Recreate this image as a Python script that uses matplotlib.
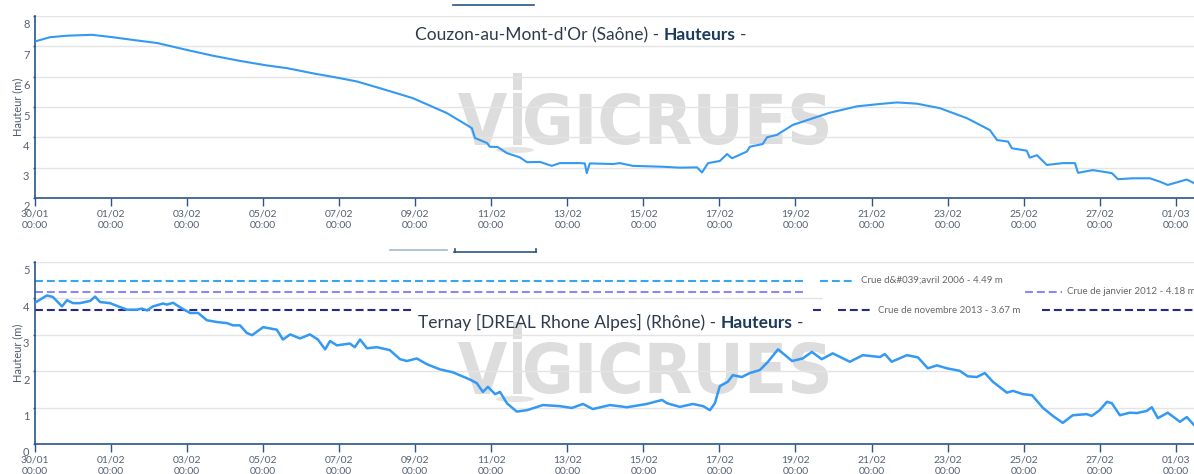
import numpy as np
import pandas as pd
import matplotlib
matplotlib.use('Agg')
import matplotlib.pyplot as plt
import matplotlib.dates as mdates
from matplotlib.patches import PathPatch, Rectangle, Ellipse
from matplotlib.textpath import TextPath
from matplotlib.font_manager import FontProperties
from matplotlib.transforms import Affine2D, IdentityTransform, ScaledTranslation
from matplotlib.lines import Line2D

plt.rcParams['font.family'] = ['Lato', 'DejaVu Sans']

debut = pd.Timestamp('2018-01-30 00:00')
ticks_dates = pd.date_range('2018-01-30', '2018-03-01', freq='2D')

# Couzon-au-Mont-d'Or (Saône): jours depuis le 30/01 00:00, hauteur en m
couzon_jours = [0.00, 0.39, 0.84, 1.50, 2.05, 2.58, 3.21, 4.00, 4.68, 5.39, 6.10, 6.63,
                7.31, 8.02, 8.47, 9.07, 9.60, 9.94, 10.83, 11.39, 11.49, 11.57, 11.89,
                11.96, 12.17, 12.41, 12.75, 12.94, 13.28, 13.59, 13.80, 14.33, 14.46,
                14.51, 14.59, 15.20, 15.38, 15.72, 16.51, 16.96, 17.41, 17.54, 17.70,
                18.01, 18.20, 18.33, 18.72, 18.80, 19.14, 19.25, 19.51, 19.93, 20.46,
                20.90, 21.61, 22.22, 22.67, 23.19, 23.80, 24.51, 25.11, 25.30, 25.59,
                25.69, 26.08, 26.16, 26.35, 26.61, 27.03, 27.35, 27.43, 27.82, 28.32,
                28.48, 28.87, 29.32, 29.58, 29.79, 30.29, 30.48]
couzon_h = [7.16, 7.30, 7.35, 7.38, 7.30, 7.21, 7.11, 6.88, 6.69, 6.52, 6.37, 6.28,
            6.11, 5.95, 5.84, 5.62, 5.42, 5.29, 4.80, 4.38, 4.30, 3.98, 3.81,
            3.69, 3.68, 3.48, 3.34, 3.18, 3.19, 3.06, 3.15, 3.15, 3.14,
            2.82, 3.14, 3.12, 3.15, 3.06, 3.03, 3.00, 3.01, 2.84, 3.15,
            3.22, 3.45, 3.31, 3.53, 3.69, 3.78, 4.00, 4.08, 4.41, 4.63,
            4.81, 5.02, 5.10, 5.15, 5.11, 4.96, 4.63, 4.24, 3.91, 3.86,
            3.64, 3.56, 3.33, 3.41, 3.09, 3.15, 3.15, 2.83, 2.92, 2.82,
            2.62, 2.65, 2.65, 2.54, 2.43, 2.61, 2.49]

# Ternay (Rhône)
ternay_jours = [0.00, 0.31, 0.47, 0.71, 0.84, 1.00, 1.18, 1.45, 1.58, 1.71, 1.97, 2.24,
                2.42, 2.68, 2.81, 2.95, 3.10, 3.37, 3.47, 3.63, 3.87, 4.08, 4.29, 4.52,
                4.79, 5.05, 5.21, 5.39, 5.57, 5.71, 6.00, 6.36, 6.52, 6.71, 6.97, 7.23,
                7.44, 7.63, 7.76, 7.94, 8.28, 8.41, 8.55, 8.73, 8.99, 9.33, 9.60, 9.78,
                10.04, 10.31, 10.65, 10.99, 11.44, 11.62, 11.78, 11.91, 12.10, 12.23,
                12.41, 12.67, 12.94, 13.36, 13.80, 14.12, 14.41, 14.67, 15.12, 15.57,
                16.09, 16.49, 16.62, 16.96, 17.30, 17.57, 17.75, 17.88, 18.01, 18.22,
                18.35, 18.59, 18.80, 19.06, 19.27, 19.54, 19.67, 19.91, 20.19, 20.43,
                20.69, 20.98, 21.43, 21.77, 22.22, 22.35, 22.53, 22.93, 23.22, 23.48,
                23.72, 23.98, 24.32, 24.53, 24.77, 24.98, 25.19, 25.56, 25.72, 25.98,
                26.22, 26.51, 26.77, 27.03, 27.29, 27.66, 27.79, 28.00, 28.19, 28.32,
                28.53, 28.79, 28.98, 29.24, 29.37, 29.53, 29.79, 30.11, 30.29, 30.48]
ternay_h = [3.88, 4.08, 4.04, 3.78, 3.95, 3.87, 3.87, 3.93, 4.05, 3.90, 3.87, 3.76,
            3.69, 3.69, 3.72, 3.67, 3.78, 3.86, 3.83, 3.88, 3.72, 3.60, 3.60, 3.40,
            3.35, 3.32, 3.26, 3.26, 3.05, 2.99, 3.21, 3.14, 2.87, 3.01, 2.90, 3.01,
            2.87, 2.60, 2.83, 2.71, 2.76, 2.66, 2.87, 2.63, 2.66, 2.58, 2.33, 2.28,
            2.35, 2.19, 2.05, 1.97, 1.77, 1.67, 1.43, 1.57, 1.37, 1.43,
            1.12, 0.89, 0.93, 1.07, 1.04, 0.99, 1.10, 0.96, 1.07, 1.01,
            1.10, 1.21, 1.12, 1.02, 1.10, 1.04, 0.93, 1.12, 1.59, 1.71,
            1.89, 1.84, 1.95, 2.03, 2.25, 2.60, 2.49, 2.28, 2.35, 2.53,
            2.33, 2.49, 2.26, 2.44, 2.39, 2.47, 2.26, 2.44, 2.38, 2.08,
            2.16, 2.08, 2.01, 1.86, 1.84, 1.95, 1.71, 1.41, 1.46, 1.37,
            1.34, 0.99, 0.77, 0.58, 0.79, 0.82, 0.77, 0.93, 1.16, 1.12,
            0.79, 0.86, 0.85, 0.91, 1.01, 0.71, 0.86, 0.61, 0.74, 0.52]

# crues historiques de Ternay
crues_noms = ["Crue d&#039;avril 2006", "Crue de janvier 2012", "Crue de novembre 2013"]
crues_h = [4.49, 4.18, 3.67]
crues_couleurs = ['#36a6f4', '#8c86f6', '#25298a']

NAVY = '#2a5586'
GRIS = '#566173'
BLEU = '#3399f3'
W, H = 1194, 474

fig = plt.figure(figsize=(W / 100, H / 100), dpi=100)


def axes_px(left, top, right, bottom):
    return fig.add_axes([left / W, 1 - bottom / H, (right - left) / W, (bottom - top) / H])


def en_dates(jours):
    return (debut + pd.to_timedelta(jours, unit='D')).to_numpy()


t0 = mdates.date2num(debut.to_pydatetime())


def filigrane(ax, top):
    # logo VIGICRUES gris clair derrière la courbe (coordonnées en pixels)
    fp = FontProperties(family='DejaVu Sans', weight='bold')
    couleur = '#dddddd'
    for txt, x0, x1 in [('V', 458, 507), ('GICRUES', 525, 828)]:
        p = TextPath((0, 0), txt, size=100, prop=fp)
        ext = p.get_extents()
        tr = (Affine2D().translate(-ext.x0, -ext.y0)
              .scale((x1 - x0) / ext.width, 52 / ext.height)
              .translate(x0, H - top - 52))
        ax.add_artist(PathPatch(tr.transform_path(p), facecolor=couleur, lw=0,
                                transform=IdentityTransform(), zorder=0.3, clip_on=False))
    ax.add_artist(Rectangle((513, H - top - 52), 9, 52, facecolor=couleur, lw=0,
                            transform=IdentityTransform(), zorder=0.3, clip_on=False))
    ax.add_artist(Rectangle((513, H - top + 3), 9, 17, facecolor=couleur, lw=0,
                            transform=IdentityTransform(), zorder=0.3, clip_on=False))
    ax.add_artist(Ellipse((515, H - top - 57), 38, 6, facecolor='#e4e4e4', lw=0,
                          transform=IdentityTransform(), zorder=0.3, clip_on=False))


def titre(ax, x, base, lieu):
    t1 = fig.text(x / W, 1 - base / H, lieu + ' -', fontsize=12.5, color='#2f3b4d',
                  ha='left', va='baseline')
    t2 = ax.annotate('Hauteurs', xy=(1, 0), xycoords=t1, xytext=(3.3, 0),
                     textcoords='offset points', fontsize=12.5, fontweight='bold',
                     color='#1b3a5c', ha='left', va='bottom')
    ax.annotate('-', xy=(1, 0), xycoords=t2, xytext=(3.3, 0), textcoords='offset points',
                fontsize=12.5, color='#2f3b4d', ha='left', va='bottom')


def habiller(ax, ymin, ymax, centre):
    ax.set_xlim(t0, t0 + 30.48)
    ax.set_ylim(ymin, ymax)
    ax.set_yticks(range(ymin, ymax + 1))
    ax.set_xticks(mdates.date2num(ticks_dates.to_pydatetime()))
    ax.xaxis.set_major_formatter(mdates.DateFormatter('%d/%m\n%H:%M'))
    for s in ['top', 'right']:
        ax.spines[s].set_visible(False)
    for s in ['left', 'bottom']:
        ax.spines[s].set_color(NAVY)
        ax.spines[s].set_linewidth(1.2)
    ax.set_axisbelow(True)
    ax.grid(axis='y', color='#e4e4e4', lw=1)
    ax.tick_params(axis='x', length=5.5, width=1, color=NAVY, pad=2.5,
                   labelsize=7.5, labelcolor=GRIS)
    ax.tick_params(axis='y', length=1.6, width=1, color=NAVY, pad=2.4,
                   labelsize=8, labelcolor=GRIS)
    plt.setp(ax.get_xticklabels(), linespacing=1.45)
    decal = ScaledTranslation(0, -8 / 100, fig.dpi_scale_trans)
    for lab in ax.get_yticklabels():
        lab.set_transform(lab.get_transform() + decal)
    fig.text(17.5 / W, 1 - centre / H, 'Hauteur (m)', rotation=90, ha='center',
             va='center', fontsize=8, color='#4d5a6e')


# --- Couzon ---
ax1 = axes_px(35, 16, 1194, 198)
habiller(ax1, 2, 8, 107)
ax1.plot(en_dates(couzon_jours), couzon_h, color=BLEU, lw=1.5, zorder=3)
filigrane(ax1, 93)
titre(ax1, 415, 40, "Couzon-au-Mont-d'Or (Saône)")

# --- Ternay ---
ax2 = axes_px(35, 262, 1194, 444)
habiller(ax2, 0, 5, 353)
ax2.plot(en_dates(ternay_jours), ternay_h, color=BLEU, lw=1.8, zorder=3)
filigrane(ax2, 342)
titre(ax2, 418, 328, "Ternay [DREAL Rhone Alpes] (Rhône)")

# morceaux visibles de chaque ligne de crue (en jours) et position des étiquettes
segments = [[(0, 20.25), (20.64, 21.56)],
            [(0, 20.25), (26.03, 27.00)],
            [(0, 9.91), (20.46, 20.69), (21.11, 22.04), (26.48, 30.6)]]
label_x = [21.72, 27.13, 22.17]
ax2.add_patch(Rectangle((t0 + 20.72, 3.93), 10, 0.14, facecolor='white', lw=0, zorder=0.8))
for nom, h, c, segs, lx in zip(crues_noms, crues_h, crues_couleurs, segments, label_x):
    for a, b in segs:
        ax2.plot([t0 + a, t0 + b], [h, h], color=c, lw=1.5, ls=(0, (3.8, 1.9)),
                 zorder=2, solid_capstyle='butt', dash_capstyle='butt')
    ax2.text(t0 + lx, h, f'{nom} - {h:.2f} m', fontsize=7, color='#666666',
             ha='left', va='center', clip_on=False)

# onglets en haut de chaque graphique
for xs, y, c in [((453, 534), 5, NAVY), ((390, 447), 250, '#a5b8cd'), ((454, 536), 251.7, NAVY)]:
    fig.add_artist(Line2D([xs[0] / W, xs[1] / W], [1 - y / H] * 2, color=c, lw=1.2,
                          transform=fig.transFigure))
for x in (454.5, 535.5):
    fig.add_artist(Line2D([x / W] * 2, [1 - 252 / H, 1 - 249 / H], color=NAVY, lw=1.2,
                          transform=fig.transFigure))

fig.savefig('out.png', dpi=100)
